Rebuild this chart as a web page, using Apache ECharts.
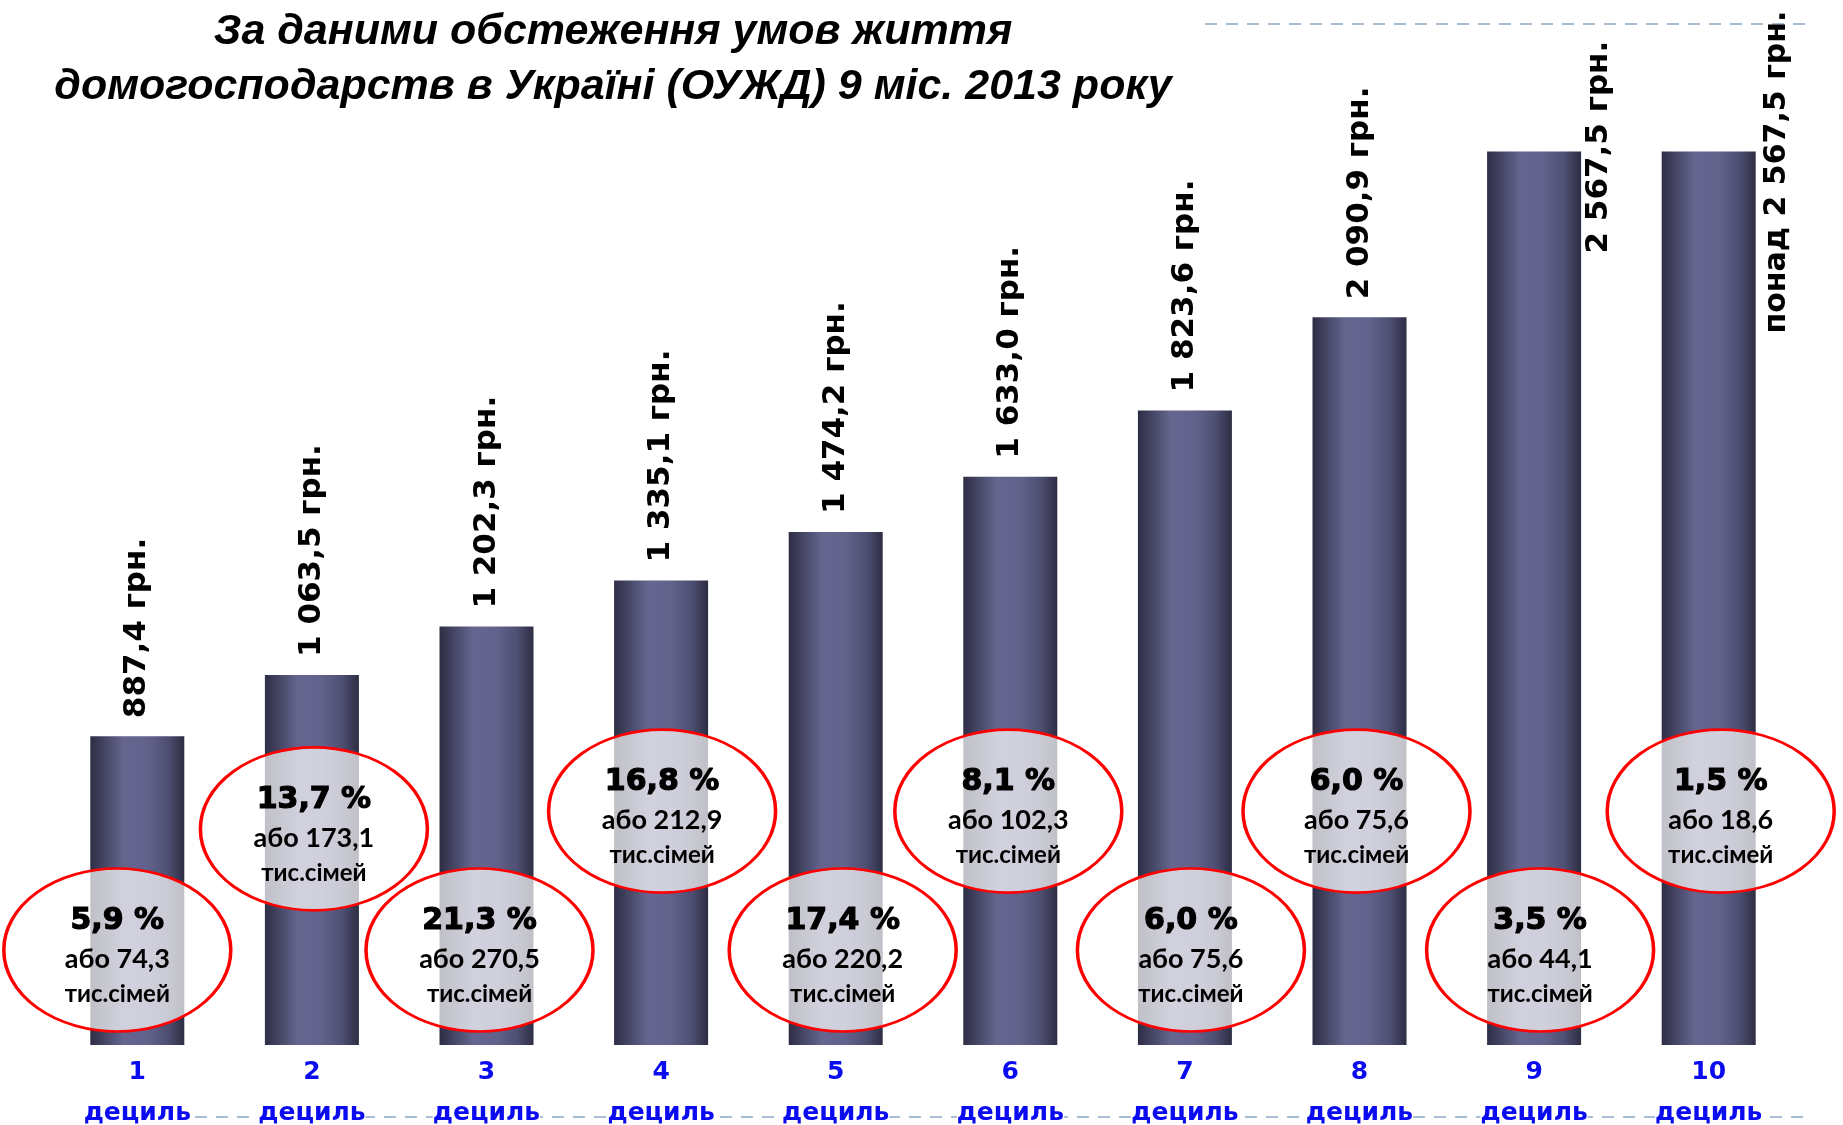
<!DOCTYPE html>
<html>
<head>
<meta charset="utf-8">
<script src="https://cdn.jsdelivr.net/npm/echarts@6/dist/echarts.min.js"></script>
<style>
html,body{margin:0;padding:0;background:#fff;overflow:hidden;}
#chart{width:1843px;height:1125px;}
</style>
</head>
<body>
<div id="chart"></div>
<script>
// ---- data ----
const categories = ['1', '2', '3', '4', '5', '6', '7', '8', '9', '10'];
const categoryWord = 'дециль';
const income = [887.4, 1063.5, 1202.3, 1335.1, 1474.2, 1633.0, 1823.6, 2090.9, 2567.5, 2567.5];
const incomePrefix = ['', '', '', '', '', '', '', '', '', 'понад '];
const sharePct = [5.9, 13.7, 21.3, 16.8, 17.4, 8.1, 6.0, 6.0, 3.5, 1.5];
const families = [74.3, 173.1, 270.5, 212.9, 220.2, 102.3, 75.6, 75.6, 44.1, 18.6];
const titleLines = ['За даними обстеження умов життя', 'домогосподарств в Україні (ОУЖД) 9 міс. 2013 року'];

// ---- helpers ----
function fmt1(v) {
  const s = v.toFixed(1).split('.');
  const int = s[0].replace(/\B(?=(\d{3})+(?!\d))/g, ' ');
  return int + ',' + s[1];
}
// ellipse placement (annotation layout: level in axis value units, small horizontal nudge in px)
const lowRow = 273, highRow = 672, highRow2 = 621;
const ellipseNudge = [-20, 2, -7, 1, 7, -2, 6, -3, 6, 12];
function ellipseLevel(i) {
  if (i % 2 === 0) return lowRow;
  return i === 1 ? highRow2 : highRow;
}

const chart = echarts.init(document.getElementById('chart'), null, {renderer: 'canvas'});

const barGrad = new echarts.graphic.LinearGradient(0, 0, 1, 0, [
  {offset: 0, color: '#2d2d45'},
  {offset: 0.35, color: '#65658f'},
  {offset: 0.6, color: '#62628c'},
  {offset: 0.82, color: '#4f4f74'},
  {offset: 1, color: '#2d2d43'}
]);

const barData = income.map((v, i) => {
  const item = {value: v};
  if (i === 8) item.label = {position: [112, 102]};
  if (i === 9) item.label = {position: [116, 182], fontSize: 30};
  return item;
});

const ellipseData = categories.map((c, i) => ({
  value: [i, ellipseLevel(i)],
  symbolOffset: [ellipseNudge[i], 0],
  pct: sharePct[i],
  fam: families[i]
}));

const option = {
  backgroundColor: '#ffffff',
  animation: false,
  title: {
    text: titleLines.join('\n'),
    left: 613,
    top: 5,
    textAlign: 'center',
    padding: 0,
    textStyle: {
      fontFamily: 'Liberation Sans',
      fontSize: 43,
      fontWeight: 'bold',
      fontStyle: 'italic',
      color: '#000',
      lineHeight: 55
    }
  },
  grid: {left: 50, right: 47, top: 1, bottom: 80, containLabel: false, outerBoundsMode: 'none'},
  xAxis: {
    type: 'category',
    data: categories,
    axisLine: {show: false},
    axisTick: {show: false},
    axisLabel: {
      margin: 7,
      interval: 0,
      hideOverlap: false,
      backgroundColor: '#ffffff',
      formatter: v => '{n|' + v + '}\n{d|' + categoryWord + '}',
      rich: {
        n: {fontFamily: 'DejaVu Sans', fontSize: 25, fontWeight: 'bold', color: '#0b0bf0', lineHeight: 41, align: 'center'},
        d: {fontFamily: 'DejaVu Sans', fontSize: 25, fontWeight: 'bold', color: '#0b0bf0', lineHeight: 41, align: 'center'}
      }
    },
    z: 5
  },
  yAxis: {
    type: 'value',
    min: 0,
    max: 3000,
    show: false,
    splitLine: {show: false}
  },
  series: [
    {
      type: 'bar',
      data: barData,
      barWidth: 94,
      itemStyle: {color: barGrad},
      z: 2,
      label: {
        show: true,
        position: 'top',
        distance: 18,
        rotate: 90,
        align: 'left',
        verticalAlign: 'middle',
        fontFamily: 'DejaVu Sans',
        fontSize: 31,
        fontWeight: 'bold',
        color: '#000',
        formatter: p => incomePrefix[p.dataIndex] + fmt1(p.value) + ' грн.'
      }
    },
    {
      type: 'scatter',
      data: ellipseData,
      symbol: 'circle',
      symbolSize: [227, 163],
      z: 3,
      itemStyle: {
        color: 'rgba(255,255,255,0.7)',
        borderColor: '#ff0000',
        borderWidth: 3,
        opacity: 1
      },
      emphasis: {disabled: true},
      label: {
        show: true,
        position: 'inside',
        offset: [0, 6],
        formatter: p => '{a|' + fmt1(p.data.pct) + ' %}\n{b|або ' + fmt1(p.data.fam) + '}\n{c|тис.сімей}',
        rich: {
          a: {fontFamily: 'DejaVu Sans', fontSize: 30, fontWeight: 'bold', color: '#000', lineHeight: 40, align: 'center', textBorderColor: '#000', textBorderWidth: 1.2},
          b: {fontFamily: 'Lato', fontSize: 27, fontWeight: 'bold', color: '#000', lineHeight: 36, align: 'center'},
          c: {fontFamily: 'Lato', fontSize: 24, fontWeight: 'bold', color: '#000', lineHeight: 34, align: 'center'}
        }
      }
    }
  ],
  graphic: [
    {
      type: 'line',
      z: -10,
      silent: true,
      shape: {x1: 1205, y1: 24, x2: 1805, y2: 24},
      style: {stroke: '#a8bcd4', lineWidth: 2, lineDash: [12, 9]}
    },
    {
      type: 'line',
      z: -10,
      silent: true,
      shape: {x1: 90, y1: 1117, x2: 1805, y2: 1117},
      style: {stroke: '#a8bcd4', lineWidth: 2, lineDash: [12, 9]}
    }
  ]
};

chart.setOption(option);
</script>
</body>
</html>
